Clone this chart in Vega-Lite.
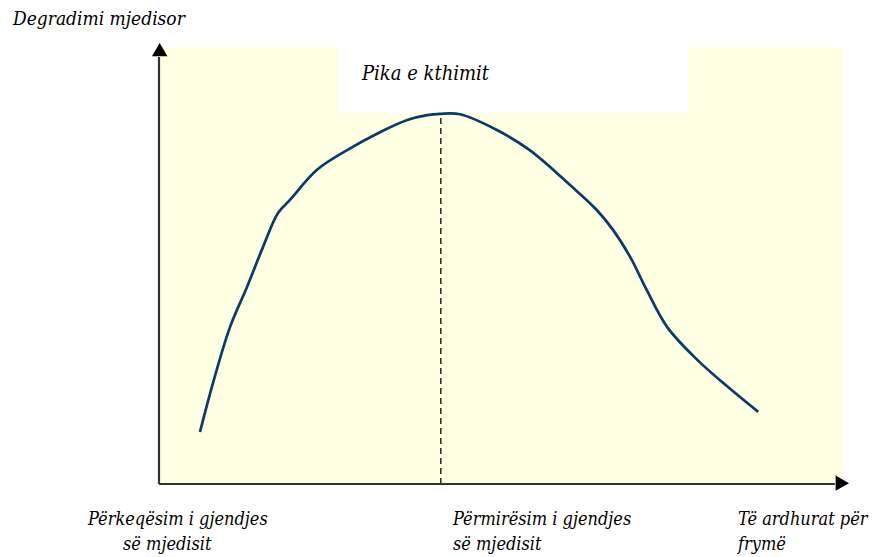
{
  "$schema": "https://vega.github.io/schema/vega-lite/v6.json",
  "width": 684,
  "height": 437,
  "autosize": {"type": "none"},
  "padding": {"left": 159, "top": 47, "right": 39, "bottom": 73},
  "background": "white",
  "config": {"view": {"fill": "#FFFFE3", "stroke": null}},
  "datasets": {
    "curve": [
      {"x": 5.99, "y": 11.9},
      {"x": 7.89, "y": 23.1},
      {"x": 10.38, "y": 35.9},
      {"x": 12.87, "y": 45.1},
      {"x": 15.2, "y": 54.2},
      {"x": 17.4, "y": 62.0},
      {"x": 19.15, "y": 65.0},
      {"x": 23.1, "y": 71.9},
      {"x": 27.5, "y": 76.4},
      {"x": 32.3, "y": 80.5},
      {"x": 36.3, "y": 83.3},
      {"x": 39.2, "y": 84.4},
      {"x": 41.1, "y": 84.7},
      {"x": 44.0, "y": 84.6},
      {"x": 49.4, "y": 81.0},
      {"x": 54.2, "y": 76.4},
      {"x": 60.1, "y": 68.4},
      {"x": 64.0, "y": 62.7},
      {"x": 66.4, "y": 58.1},
      {"x": 68.9, "y": 51.9},
      {"x": 71.3, "y": 44.4},
      {"x": 74.3, "y": 35.9},
      {"x": 78.7, "y": 28.4},
      {"x": 82.5, "y": 23.1},
      {"x": 87.6, "y": 16.5}
    ],
    "box": [{"x": 26.3, "x2": 77.3, "y": 84.9, "y2": 100}],
    "axes": [
      {"x": 0, "x2": 0, "y": 0, "y2": 97.7},
      {"x": 0, "x2": 98.8, "y": 0, "y2": 0}
    ],
    "peak": [{"x": 41.2, "x2": 41.2, "y": 0, "y2": 84.7}],
    "arrows": [
      {"x": 0.1, "y": 99.4, "shape": "triangle-up"},
      {"x": 99.9, "y": 0.2, "shape": "triangle-right"}
    ],
    "labels": [
      {"x": -21.35, "y": 105.0, "label": "Degradimi mjedisor", "size": 19},
      {"x": 29.68, "y": 92.45, "label": "Pika e kthimit", "size": 20},
      {"x": -10.38, "y": -9.4, "label": "Përkeqësim i gjendjes", "size": 18},
      {"x": -5.26, "y": -15.1, "label": "së mjedisit", "size": 18},
      {"x": 42.98, "y": -9.4, "label": "Përmirësim i gjendjes", "size": 18},
      {"x": 42.98, "y": -15.1, "label": "së mjedisit", "size": 18},
      {"x": 84.65, "y": -9.4, "label": "Të ardhurat për", "size": 18},
      {"x": 84.65, "y": -15.1, "label": "frymë", "size": 18}
    ]
  },
  "encoding": {
    "x": {"field": "x", "type": "quantitative", "scale": {"domain": [0, 100], "nice": false, "zero": false}, "axis": null},
    "y": {"field": "y", "type": "quantitative", "scale": {"domain": [0, 100], "nice": false, "zero": false}, "axis": null}
  },
  "layer": [
    {
      "data": {"name": "box"},
      "mark": {"type": "rect", "fill": "white", "stroke": null},
      "encoding": {"x2": {"field": "x2"}, "y2": {"field": "y2"}}
    },
    {
      "data": {"name": "peak"},
      "mark": {"type": "rule", "color": "#333333", "strokeWidth": 1.6, "strokeDash": [6, 4]},
      "encoding": {"x2": {"field": "x2"}, "y2": {"field": "y2"}}
    },
    {
      "data": {"name": "curve"},
      "mark": {"type": "line", "color": "#0B3A69", "strokeWidth": 2.7, "interpolate": "catmull-rom", "clip": false},
      "encoding": {}
    },
    {
      "data": {"name": "axes"},
      "mark": {"type": "rule", "color": "#333333", "strokeWidth": 2.2, "clip": false},
      "encoding": {"x2": {"field": "x2"}, "y2": {"field": "y2"}}
    },
    {
      "data": {"name": "arrows"},
      "mark": {"type": "point", "filled": true, "color": "black", "opacity": 1, "size": 240, "clip": false},
      "encoding": {"shape": {"field": "shape", "type": "nominal", "scale": null}}
    },
    {
      "data": {"name": "labels"},
      "mark": {"type": "text", "font": "DejaVu Serif Condensed", "fontStyle": "italic", "align": "left", "baseline": "alphabetic", "color": "black", "clip": false},
      "encoding": {
        "text": {"field": "label", "type": "nominal"},
        "size": {"field": "size", "type": "quantitative", "scale": null}
      }
    }
  ]
}
